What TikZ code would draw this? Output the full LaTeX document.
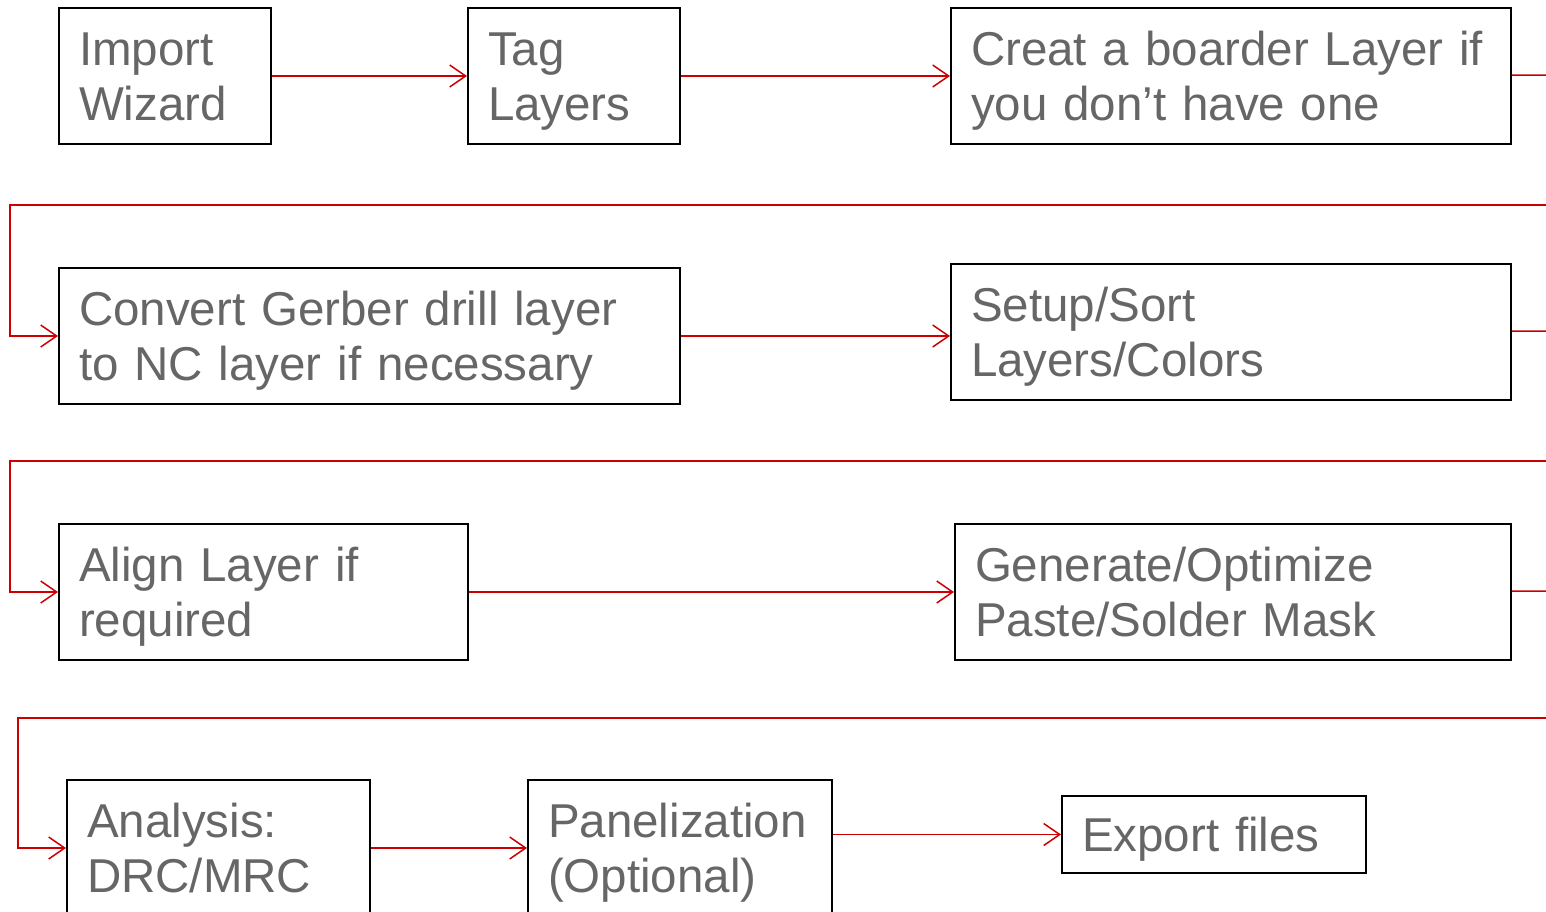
\documentclass[tikz,border=0pt]{standalone}
\usepackage{fontspec}
\setmainfont{Liberation Sans}
\usetikzlibrary{arrows.meta}
\definecolor{flowred}{RGB}{204,0,0}
\definecolor{boxtext}{RGB}{102,102,102}

\begin{document}
\begin{tikzpicture}[x=0.5pt, y=-0.5pt,
        stage/.style={draw, line width=1pt, anchor=north west, align=left,
            text=boxtext, font=\fontsize{23.75}{27.5}\selectfont,
            inner xsep=10pt, inner ysep=0pt, minimum height=68pt,
            text height=17pt, text depth=27.5pt},
        flow/.style={draw=flowred, line width=0.75pt,
            -{Straight Barb[length=8pt,width=11pt]}},
        wire/.style={draw=flowred, line width=0.75pt}
    ]
    \useasboundingbox (0,0) rectangle (1546,911);
    \clip (0,0) rectangle (1546,911);

    \node[stage, text width=86pt] (import) at (58,7) {Import\\Wizard};
    \node[stage, text width=86pt] (tag) at (467,7) {Tag\\Layers};
    \node[stage, text width=260pt] (creat) at (950,7) {Creat a boarder Layer if\\you don’t have one};

    \node[stage, text width=290.5pt] (convert) at (58,267) {Convert Gerber drill layer\\to NC layer if necessary};
    \node[stage, text width=260pt] (setup) at (950,263) {Setup/Sort\\Layers/Colors};

    \node[stage, text width=184.5pt] (align) at (58,523) {Align Layer if\\required};
    \node[stage, text width=258pt] (generate) at (954,523) {Generate/Optimize\\Paste/Solder Mask};

    \node[stage, text width=131.5pt] (analysis) at (66,779) {Analysis:\\DRC/MRC};
    \node[stage, text width=132pt] (panel) at (527,779) {Panelization\\(Optional)};
    \node[stage, text width=132pt, minimum height=38.5pt, text depth=0pt] (export) at (1061,795) {Export files};

    % free ends at the right edge and the bends on the left
    \coordinate (out1) at (1546,75);
    \coordinate (out2) at (1546,331);
    \coordinate (out3) at (1546,591);
    \coordinate (in1) at (1546,205);
    \coordinate (bend1) at (10,205);
    \coordinate (in2) at (1546,461);
    \coordinate (bend2) at (10,461);
    \coordinate (in3) at (1546,718);
    \coordinate (bend3) at (18,718);

    \draw[flow] (import) -- (tag);
    \draw[flow] (tag) -- (creat);
    \draw[wire] (creat) -- (out1);

    \draw[flow] (in1) -- (bend1) |- (convert.west);
    \draw[flow] (convert) -- (convert.east -| setup.west);
    \draw[wire] (setup) -- (out2);

    \draw[flow] (in2) -- (bend2) |- (align.west);
    \draw[flow] (align) -- (generate);
    \draw[wire] (generate) -- (out3);

    \draw[flow] (in3) -- (bend3) |- (analysis.west);
    \draw[flow] (analysis) -- (analysis.east -| panel.west);
    \draw[flow] (panel.east |- export.west) -- (export);
\end{tikzpicture}
\end{document}
